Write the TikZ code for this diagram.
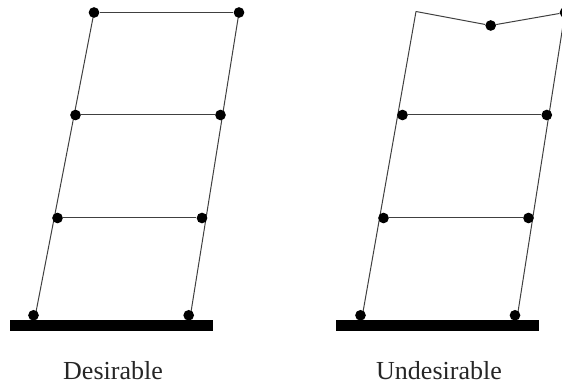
\documentclass[tikz,border=0pt]{standalone}
\usepackage{fontspec}
\setmainfont{Liberation Serif}
\definecolor{ink}{gray}{0.25}
\tikzset{hinge/.style={circle,fill=black,inner sep=0pt,minimum size=8pt},
member/.style={draw=ink,line width=0.75pt},
base/.style={fill=black,draw=none},
lab/.style={font=\fontsize{19.5}{21}\selectfont,text=black!85,inner sep=0pt}}
\begin{document}
\begin{tikzpicture}[x=0.75pt,y=-0.75pt]
\useasboundingbox (0,0) rectangle (562,385);
% left frame
\coordinate (af) at (36,312);
\coordinate (bf) at (191,312);
\draw[member] (af)--(94,12.5) coordinate (at);
\draw[member] (bf)--(239,12.5) coordinate (bt);
\node[hinge] (a1) at (33.5,315.3) {};
\node[hinge] (a2) at (57.5,218) {};
\node[hinge] (a3) at (75.5,115) {};
\node[hinge] (a4) at (94,12.5) {};
\node[hinge] (b1) at (188.7,315.3) {};
\node[hinge] (b2) at (202,218) {};
\node[hinge] (b3) at (220.5,115) {};
\node[hinge] (b4) at (239,12.5) {};
\draw[member] (a4)--(b4) (a2)--(b2) (a3)--(b3);
% right frame
\coordinate (cf) at (363,312);
\coordinate (df) at (518,312);
\coordinate (c4) at (416,11.5);
\draw[member] (cf)--(c4);
\draw[member] (df)--(565,12.5);
\node[hinge] (c1) at (360.5,315.3) {};
\node[hinge] (c2) at (383.5,218) {};
\node[hinge] (c3) at (402.5,115) {};
\node[hinge] (m) at (490.7,25.5) {};
\node[hinge] (d4) at (565,12.5) {};
\node[hinge] (d1) at (515,315.3) {};
\node[hinge] (d2) at (528.5,218) {};
\node[hinge] (d3) at (546.8,115) {};
\draw[member] (c4)--(m)--(d4);
\draw[member] (c2)--(d2) (c3)--(d3);
% bases
\fill[base] (10,320) rectangle (212.5,331.5);
\fill[base] (336,320) rectangle (539,331.5);
\node[lab] (t1) at (113,371) {Desirable};
\node[lab] (t2) at (439,371) {Undesirable};
\end{tikzpicture}
\end{document}
